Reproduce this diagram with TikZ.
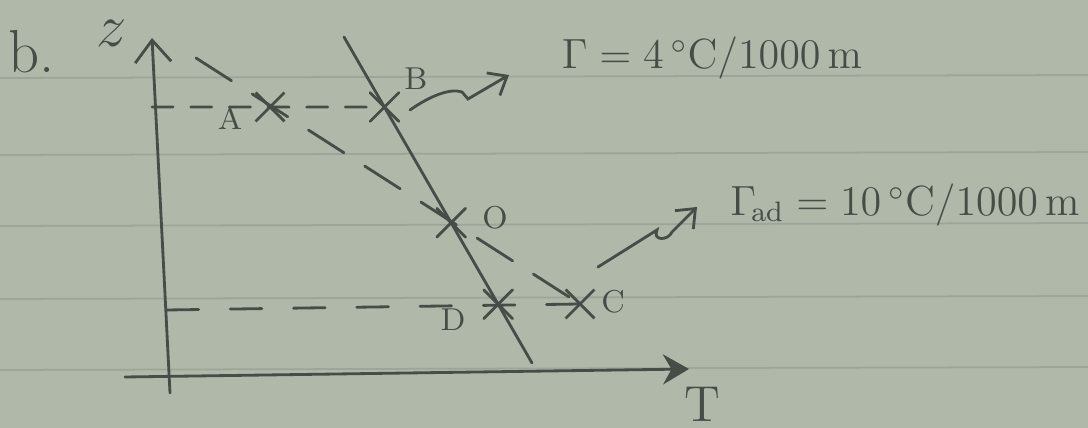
\documentclass[tikz,border=0pt]{standalone}
\usepackage{amsmath,amssymb}
\usetikzlibrary{positioning,arrows.meta,shapes.misc}
\definecolor{paper}{RGB}{176,184,170}
\definecolor{ink}{RGB}{70,76,70}
\definecolor{ruling}{RGB}{156,165,153}
\tikzset{
  hand/.style={draw=ink,thick,line cap=round},
  xmark/.style={cross out,draw=ink,thick,minimum size=2.6mm,inner sep=0pt},
  adiab/.style={hand,dash pattern=on 12pt off 7pt},
  level/.style={hand,dash pattern=on 6pt off 5pt}
}

\begin{document}
\begin{tikzpicture}[x=0.1mm,y=-0.1mm,ink]
\fill[paper] (0,0) rectangle (1088,428);
\useasboundingbox (0,0) rectangle (1088,428);
% ruled lines of the page
\foreach \yy in {78,155,226,299,370}
  {\draw[ruling,line width=0.5pt] (0,\yy) -- (1088,\yy-3);}
% axes
\coordinate (zbot) at (170,393);
\coordinate (ztip) at (152,38);
\coordinate (tleft) at (125,377);
\coordinate (ttip) at (689,369);
\draw[hand,-{Straight Barb[length=2.2mm,width=3.6mm]}] (zbot) -- (ztip);
\draw[hand,-{Stealth[length=2.6mm,width=3mm]}] (tleft) -- (ttip);
\node (lblz) at (112,33) {\LARGE $z$};
\node (lblt) at (702,404) {\Large T};
\node (lblb) at (32,52) {\LARGE b.};
% environment profile with B, O, D
\coordinate (envtop) at (344,37);
\coordinate (envbot) at (532,363);
\draw[hand] (envtop) -- (envbot)
  node[xmark,pos=0.215] (B) {}
  node[xmark,pos=0.57] (O) {}
  node[xmark,pos=0.82] (D) {};
% dry adiabat through A, O, C
\coordinate (adtop) at (196,58);
\node[xmark] (A) at (270,107) {};
\node[xmark] (C) at (580,304) {};
\draw[adiab] (adtop) -- (C.center);
% levels
\coordinate (zhi) at (152,107);
\coordinate (zlo) at (167,310);
\draw[level] (zhi) -- (B.center);
\draw[level,dash pattern=on 9pt off 9pt] (zlo) -- (C.center);
% point labels
\node[font=\small] (labA) at (230,118) {A};
\node[font=\small] (labB) at (416,79) {B};
\node[font=\small] (labO) at (495,218) {O};
\node[font=\small] (labD) at (453,320) {D};
\node[font=\small] (labC) at (613,302) {C};
% lapse rates
\node[font=\large] (gam) at (712,58) {$\Gamma = 4\,^{\circ}\mathrm{C}/1000\,\mathrm{m}$};
\node[font=\large] (gamad) at (905,205) {$\Gamma_{\!\mathrm{ad}} = 10\,^{\circ}\mathrm{C}/1000\,\mathrm{m}$};
\coordinate (w1s) at (410,110);
\coordinate (w1e) at (509,75);
\coordinate (w2s) at (598,267);
\coordinate (w2e) at (697,207);
\draw[hand,-{Straight Barb[length=1.6mm,width=2.6mm]}] (w1s)
  .. controls (430,96) and (450,88) .. (462,92) -- (468,99) -- (w1e);
\draw[hand,-{Straight Barb[length=1.6mm,width=2.6mm]}] (w2s) -- (657,230)
  .. controls (652,241) and (668,241) .. (672,232) -- (w2e);
\end{tikzpicture}
\end{document}
